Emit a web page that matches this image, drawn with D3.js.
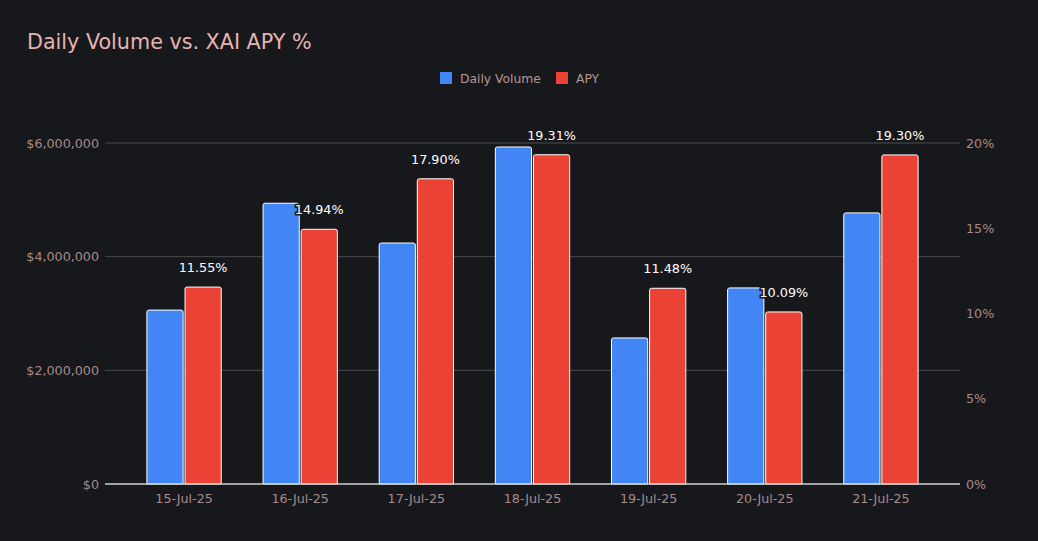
<!DOCTYPE html>
<html>
<head>
<meta charset="utf-8">
<script src="https://cdn.jsdelivr.net/npm/d3@7"></script>
<style>
  body { margin: 0; background: #17181c; }
  text { font-family: "DejaVu Sans", sans-serif; }
</style>
</head>
<body>
<div id="chart"></div>
<script>
// Chart data
let dates = ["15-Jul-25", "16-Jul-25", "17-Jul-25", "18-Jul-25", "19-Jul-25", "20-Jul-25", "21-Jul-25"];
let volume = [3060000, 4940000, 4240000, 5930000, 2570000, 3450000, 4770000];
let apy = [11.55, 14.94, 17.90, 19.31, 11.48, 10.09, 19.30];
let volTicks = [0, 2000000, 4000000, 6000000];
let apyTicks = [0, 5, 10, 15, 20];

let svgWidth = 1038, svgHeight = 541;
let plot = { left: 105, right: 960, top: 143, bottom: 484 };

let svg = d3.select('#chart')
    .append('svg')
    .attr('width', svgWidth)
    .attr('height', svgHeight)
    .style('background', '#17181c');

// Scales
let x0 = d3.scaleBand()
    .domain(dates)
    .range([126, 939])
    .paddingInner(0.36)
    .paddingOuter(0.18);
let x1 = d3.scaleBand()
    .domain(['vol', 'apy'])
    .range([0, x0.bandwidth()])
    .paddingInner(0.05);
let yVol = d3.scaleLinear().domain([0, 6000000]).range([plot.bottom, plot.top]);
let yApy = d3.scaleLinear().domain([0, 20]).range([plot.bottom, plot.top]);

// Title
svg.append('text')
    .attr('x', 27).attr('y', 49)
    .attr('fill', '#e6b3b3')
    .attr('font-size', 20.7)
    .text('Daily Volume vs. XAI APY %');

// Legend
let legend = [
    { name: 'Daily Volume', color: '#4285f4', x: 440 },
    { name: 'APY', color: '#ea4335', x: 556 }
];
let lg = svg.append('g').selectAll('g').data(legend).enter().append('g');
lg.append('rect')
    .attr('x', d => d.x).attr('y', 72)
    .attr('width', 12).attr('height', 12)
    .attr('fill', d => d.color);
lg.append('text')
    .attr('x', d => d.x + 20).attr('y', 83)
    .attr('fill', '#b89494')
    .attr('font-size', 12.3)
    .text(d => d.name);

// Grid lines
svg.append('g').selectAll('line')
    .data(volTicks.slice(1))
    .enter().append('line')
    .attr('x1', plot.left).attr('x2', plot.right)
    .attr('y1', d => yVol(d)).attr('y2', d => yVol(d))
    .attr('stroke', '#4a4a4e').attr('stroke-width', 1);

// Left axis
let leftAxis = d3.axisLeft(yVol)
    .tickValues(volTicks)
    .tickSize(0).tickPadding(6)
    .tickFormat(d => '$' + d3.format(',')(d));
let gl = svg.append('g')
    .attr('transform', `translate(${plot.left},0)`)
    .call(leftAxis);
gl.select('.domain').remove();
gl.selectAll('text').attr('fill', '#a88a8a').attr('font-size', 12.7)
    .style('font-family', '"DejaVu Sans", sans-serif');

// Right axis
let rightAxis = d3.axisRight(yApy)
    .tickValues(apyTicks)
    .tickSize(0).tickPadding(6)
    .tickFormat(d => d + '%');
let gr = svg.append('g')
    .attr('transform', `translate(${plot.right},0)`)
    .call(rightAxis);
gr.select('.domain').remove();
gr.selectAll('text').attr('fill', '#a88a8a').attr('font-size', 12.7)
    .style('font-family', '"DejaVu Sans", sans-serif');

// Bars path with rounded top corners
function barPath(x, y, w, h, r) {
    r = Math.min(r, h);
    return `M${x},${y + h} V${y + r} Q${x},${y} ${x + r},${y} H${x + w - r} Q${x + w},${y} ${x + w},${y + r} V${y + h} Z`;
}

let groups = svg.append('g').selectAll('g')
    .data(dates)
    .enter().append('g')
    .attr('transform', d => `translate(${x0(d)},0)`);

groups.append('path')
    .attr('d', (d, i) => barPath(x1('vol'), yVol(volume[i]), x1.bandwidth(), plot.bottom - yVol(volume[i]), 2))
    .attr('fill', '#4285f4')
    .attr('stroke', '#ffffff').attr('stroke-width', 1);

groups.append('path')
    .attr('d', (d, i) => barPath(x1('apy'), yApy(apy[i]), x1.bandwidth(), plot.bottom - yApy(apy[i]), 2))
    .attr('fill', '#ea4335')
    .attr('stroke', '#ffffff').attr('stroke-width', 1);

// Baseline
svg.append('line')
    .attr('x1', plot.left).attr('x2', plot.right)
    .attr('y1', plot.bottom).attr('y2', plot.bottom)
    .attr('stroke', '#d0d0d0').attr('stroke-width', 1.5);

// X axis labels
let xAxis = d3.axisBottom(x0).tickSize(0).tickPadding(10);
let gx = svg.append('g')
    .attr('transform', `translate(0,${plot.bottom})`)
    .call(xAxis);
gx.select('.domain').remove();
gx.selectAll('text').attr('fill', '#a88a8a').attr('font-size', 12.7)
    .style('font-family', '"DejaVu Sans", sans-serif');

// APY value labels
groups.append('text')
    .attr('x', x1('apy') + x1.bandwidth() / 2)
    .attr('y', (d, i) => yApy(apy[i]) - 15)
    .attr('text-anchor', 'middle')
    .attr('font-size', 12.8)
    .attr('fill', '#ffffff')
    .attr('stroke', '#17181c').attr('stroke-width', 3)
    .attr('paint-order', 'stroke')
    .text((d, i) => apy[i].toFixed(2) + '%');
</script>
</body>
</html>
